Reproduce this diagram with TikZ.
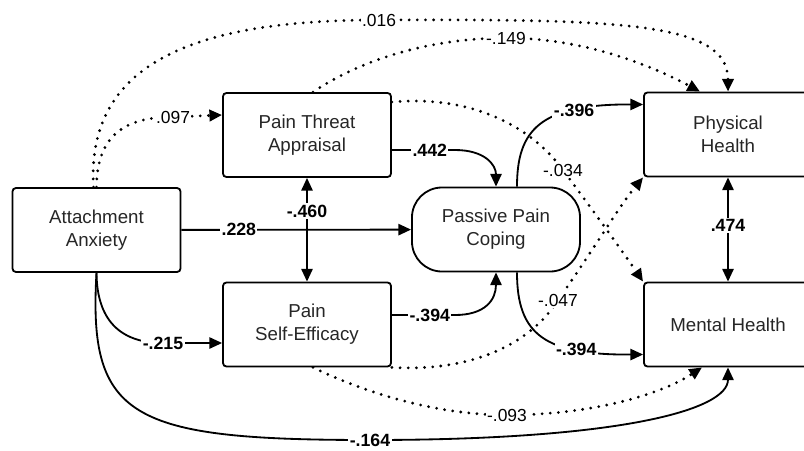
\documentclass[tikz,border=0pt]{standalone}
\usepackage{fontspec}
\setmainfont{Liberation Sans}
\usetikzlibrary{arrows.meta,calc}

\begin{document}
\begin{tikzpicture}[x=0.025cm,y=-0.025cm,>={Triangle[length=9pt,width=8pt]},
  var/.style={draw,fill=white,line width=1.3pt,rounded corners=2.5pt,minimum width=4.2cm,
    minimum height=2.1cm,inner sep=0pt,align=center,text=black!85,
    font=\fontsize{13.3}{16.3}\selectfont},
  solidarrow/.style={->,line width=1.3pt},
  dotarrow/.style={->,line width=2.2pt,dash pattern=on 0pt off 5.8pt,line cap=round},
  lbl/.style={fill=white,inner sep=1pt,font=\fontsize{12.6}{14}\selectfont\bfseries},
  lbln/.style={fill=white,inner sep=1pt,font=\fontsize{12.4}{14}\selectfont}]
\useasboundingbox (0,0) rectangle (804,450);

\node[var] (anx) at (96.5,230) {Attachment\\Anxiety};
\node[var] (threat) at (307,135) {Pain Threat\\Appraisal};
\node[var] (eff) at (307,324.5) {Pain\\Self-Efficacy};
\node[var,rounded corners=0.75cm] (cope) at (496,229.5) {Passive Pain\\Coping};
\node[var] (phys) at (728,134.5) {Physical\\Health};
\node[var] (ment) at (728,324.5) {Mental Health};

\draw[dotarrow] (anx.north) .. controls (97,135) and (125,117) .. node[lbln,pos=1]{.097} (173,117)
  -- ($(threat.west)+(0,-20)$);
\draw[dotarrow] ($(anx.north)+(-3,0)$) .. controls (86,60) and (200,20) .. node[lbln,pos=1]{.016} (379,20)
  .. controls (620,19) and (728,22) .. (phys.north);
\draw[dotarrow] ($(threat.north)+(6,0)$) .. controls (360,60) and (430,38) .. node[lbln,pos=1]{-.149} (506,38)
  .. controls (590,38) and (660,70) .. ($(phys.north)+(-28,0)$);
\draw[dotarrow] ($(threat.east)+(0,-33)$) .. controls (470,95) and (530,125) .. node[lbln,pos=1]{-.034} (563,170)
  .. controls (600,220) and (625,255) .. (ment.north west);
\draw[dotarrow] (eff.south east) .. controls (470,372) and (530,345) .. node[lbln,pos=1]{-.047} (558,300)
  .. controls (590,255) and (620,205) .. (phys.south west);
\draw[dotarrow] ($(eff.south)+(6,0)$) .. controls (370,395) and (440,415) .. node[lbln,pos=1]{-.093} (507,415)
  .. controls (590,415) and (660,395) .. ($(ment.south)+(-26,0)$);

\draw[solidarrow] (anx) -- node[lbl,pos=0.25]{.228} (cope);
\draw[solidarrow,<->] (threat) -- node[lbl,pos=0.32]{-.460} (eff);
\draw[solidarrow,<->] (phys) -- node[lbl,pos=0.46]{.474} (ment);
\draw[solidarrow] ($(threat.east)+(0,15)$) -- node[lbl,pos=0.6]{.442} (455,150)
  .. controls (485,150) and (496,165) .. (cope.north);
\draw[solidarrow] ($(eff.east)+(0,-9.5)$) -- node[lbl,pos=0.6]{-.394} (455,315)
  .. controls (485,315) and (496,300) .. (cope.south);
\draw[solidarrow] ($(cope.north)+(21,0)$) .. controls (517,130) and (540,104) .. node[lbl,pos=0.72]{-.396}
  ($(phys.west)+(0,-30)$);
\draw[solidarrow] ($(cope.south)+(21,0)$) .. controls (517,335) and (545,355) .. node[lbl,pos=0.72]{-.394}
  ($(ment.west)+(0,30)$);
\draw[solidarrow] (anx.south) .. controls (97,325) and (125,343) .. node[lbl,pos=1]{-.215} (163,343)
  -- ($(eff.west)+(0,18.5)$);
\draw[solidarrow] (anx.south) .. controls (88,418) and (130,440) .. node[lbl,pos=1]{-.164} (370,440)
  .. controls (620,440) and (728,410) .. (ment.south);
\end{tikzpicture}
\end{document}
